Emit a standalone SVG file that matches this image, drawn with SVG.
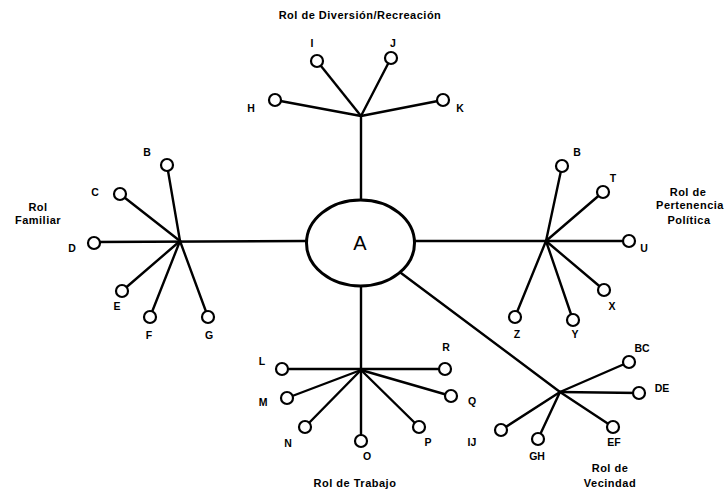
<svg xmlns="http://www.w3.org/2000/svg" width="727" height="490" viewBox="0 0 727 490">
<style>
.e{stroke:#000;stroke-width:2.4;fill:none;stroke-linecap:round}
.n circle{fill:#fff;stroke:#000;stroke-width:2.2}
text{font-family:"Liberation Sans",Arial,sans-serif;font-weight:bold;fill:#000;text-anchor:middle}
.l{font-size:10.5px}
.r{font-size:11px;letter-spacing:0.5px}
</style>
<rect width="727" height="490" fill="#fff"/>
<g id="connectors">
<line class="e" x1="361" y1="116" x2="361" y2="200"/>
<line class="e" x1="361" y1="116" x2="317" y2="61"/>
<line class="e" x1="361" y1="116" x2="391" y2="58"/>
<line class="e" x1="361" y1="116" x2="275" y2="100"/>
<line class="e" x1="361" y1="116" x2="443" y2="100"/>
<line class="e" x1="306" y1="241" x2="94" y2="242"/>
<line class="e" x1="180" y1="241" x2="167" y2="165"/>
<line class="e" x1="180" y1="241" x2="120" y2="194"/>
<line class="e" x1="180" y1="241" x2="122" y2="291"/>
<line class="e" x1="180" y1="241" x2="150" y2="317"/>
<line class="e" x1="180" y1="241" x2="208" y2="317"/>
<line class="e" x1="415" y1="241" x2="629" y2="241"/>
<line class="e" x1="546" y1="241" x2="562" y2="166"/>
<line class="e" x1="546" y1="241" x2="603" y2="192"/>
<line class="e" x1="546" y1="241" x2="604" y2="290"/>
<line class="e" x1="546" y1="241" x2="573" y2="320"/>
<line class="e" x1="546" y1="241" x2="515" y2="317"/>
<line class="e" x1="361" y1="286" x2="361" y2="441"/>
<line class="e" x1="282" y1="369" x2="445" y2="369"/>
<line class="e" x1="361" y1="370" x2="287" y2="398"/>
<line class="e" x1="361" y1="370" x2="451" y2="396"/>
<line class="e" x1="361" y1="370" x2="305" y2="427"/>
<line class="e" x1="361" y1="370" x2="419" y2="427"/>
<line class="e" x1="401" y1="273" x2="560" y2="392"/>
<line class="e" x1="560" y1="392" x2="629" y2="362"/>
<line class="e" x1="560" y1="392" x2="639" y2="393"/>
<line class="e" x1="560" y1="392" x2="613" y2="427"/>
<line class="e" x1="560" y1="392" x2="538" y2="439"/>
<line class="e" x1="560" y1="392" x2="501" y2="430"/>
</g>
<g id="A"><ellipse cx="360.5" cy="243" rx="54" ry="43" fill="#fff" stroke="#000" stroke-width="3"/><text x="360" y="250" style="font-size:20px;font-weight:normal">A</text></g>
<g id="titles">
<text class="r" x="360" y="19">Rol de Diversión/Recreación</text>
<text class="r" x="38" y="210.5">Rol</text><text class="r" x="38" y="224">Familiar</text>
<text class="r" x="688" y="195.5">Rol de</text><text class="r" x="690" y="209">Pertenencia</text><text class="r" x="689" y="224">Política</text>
<text class="r" x="355" y="487">Rol de Trabajo</text>
<text class="r" x="610" y="472">Rol de</text><text class="r" x="610" y="486.5">Vecindad</text>
</g>
<g id="nI" class="n"><circle cx="317" cy="61" r="6"/><text class="l" x="312" y="47">I</text></g>
<g id="nJ" class="n"><circle cx="391" cy="58" r="6"/><text class="l" x="393" y="47">J</text></g>
<g id="nH" class="n"><circle cx="275" cy="100" r="6"/><text class="l" x="251" y="112">H</text></g>
<g id="nK" class="n"><circle cx="443" cy="100" r="6"/><text class="l" x="460" y="112">K</text></g>
<g id="nB1" class="n"><circle cx="167" cy="165" r="6"/><text class="l" x="147" y="156">B</text></g>
<g id="nC" class="n"><circle cx="120" cy="194" r="6"/><text class="l" x="95" y="196">C</text></g>
<g id="nD" class="n"><circle cx="94" cy="243" r="6"/><text class="l" x="72" y="252">D</text></g>
<g id="nE" class="n"><circle cx="122" cy="291" r="6"/><text class="l" x="117" y="310">E</text></g>
<g id="nF" class="n"><circle cx="150" cy="317" r="6"/><text class="l" x="149" y="339">F</text></g>
<g id="nG" class="n"><circle cx="208" cy="317" r="6"/><text class="l" x="209" y="339">G</text></g>
<g id="nB2" class="n"><circle cx="562" cy="166" r="6"/><text class="l" x="577" y="156">B</text></g>
<g id="nT" class="n"><circle cx="603" cy="192" r="6"/><text class="l" x="613" y="182">T</text></g>
<g id="nU" class="n"><circle cx="629" cy="241" r="6"/><text class="l" x="644" y="252">U</text></g>
<g id="nX" class="n"><circle cx="604" cy="290" r="6"/><text class="l" x="612" y="310">X</text></g>
<g id="nY" class="n"><circle cx="573" cy="320" r="6"/><text class="l" x="575" y="338">Y</text></g>
<g id="nZ" class="n"><circle cx="515" cy="317" r="6"/><text class="l" x="517" y="338">Z</text></g>
<g id="nL" class="n"><circle cx="282" cy="369" r="6"/><text class="l" x="262" y="365">L</text></g>
<g id="nR" class="n"><circle cx="445" cy="369" r="6"/><text class="l" x="446" y="351">R</text></g>
<g id="nM" class="n"><circle cx="287" cy="398" r="6"/><text class="l" x="263" y="406">M</text></g>
<g id="nQ" class="n"><circle cx="451" cy="396" r="6"/><text class="l" x="472" y="405">Q</text></g>
<g id="nN" class="n"><circle cx="305" cy="427" r="6"/><text class="l" x="288" y="447">N</text></g>
<g id="nO" class="n"><circle cx="361" cy="441" r="6"/><text class="l" x="367" y="460">O</text></g>
<g id="nP" class="n"><circle cx="419" cy="427" r="6"/><text class="l" x="428" y="446">P</text></g>
<g id="nBC" class="n"><circle cx="629" cy="362" r="6"/><text class="l" x="642" y="352">BC</text></g>
<g id="nDE" class="n"><circle cx="639" cy="393" r="6"/><text class="l" x="662" y="392">DE</text></g>
<g id="nEF" class="n"><circle cx="613" cy="427" r="6"/><text class="l" x="614" y="446">EF</text></g>
<g id="nGH" class="n"><circle cx="538" cy="439" r="6"/><text class="l" x="537" y="460">GH</text></g>
<g id="nIJ" class="n"><circle cx="501" cy="430" r="6"/><text class="l" x="472" y="446">IJ</text></g>
</svg>
